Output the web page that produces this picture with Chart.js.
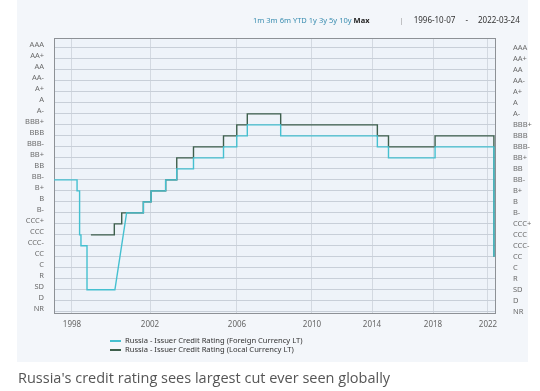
<!DOCTYPE html>
<html>
<head>
<meta charset="utf-8">
<script src="https://cdn.jsdelivr.net/npm/chart.js@4/dist/chart.umd.min.js"></script>
<style>
  body { margin: 0; width: 540px; height: 391px; background: #fff; position: relative; overflow: hidden; font-family: "Noto Sans", sans-serif; }
  #panel { position: absolute; left: 17px; top: 0; width: 511px; height: 362px; background: #f3f6fa; }
  #chart { position: absolute; left: 0; top: 0; }
  #range { position: absolute; top: 14px; left: 253px; font-size: 7.5px; color: #444; white-space: nowrap; }
  #range .btn { color: #3a8db0; margin-right: 2px; }
  #range .on { color: #222; font-weight: bold; }
  #range .sep { margin: 0 10px 0 28px; color: #999; }
  #range .date { font-size: 8px; color: #333; }
  #legend { position: absolute; left: 110px; top: 336px; font-size: 7.6px; color: #333; line-height: 9px; }
  #legend span.swatch { display: inline-block; width: 11px; height: 1.5px; margin-right: 4px; vertical-align: middle; }
  #caption { position: absolute; left: 18px; top: 368px; font-size: 14.5px; color: #555; font-family: "Open Sans", sans-serif; }
</style>
</head>
<body>
<div id="panel"></div>
<canvas id="chart" width="540" height="391"></canvas>
<div id="range"></div>
<div id="legend"></div>
<div id="caption">Russia's credit rating sees largest cut ever seen globally</div>
<script>
// rating scale, bottom to top
const ratingLabels = ['NR', 'D', 'SD', 'R', 'C', 'CC', 'CCC-', 'CCC', 'CCC+', 'B-', 'B', 'B+',
  'BB-', 'BB', 'BB+', 'BBB-', 'BBB', 'BBB+', 'A-', 'A', 'A+', 'AA-', 'AA', 'AA+', 'AAA'];
const tickYears = [1998, 2002, 2006, 2010, 2014, 2018, 2022];
const rangeButtons = ['1m', '3m', '6m', 'YTD', '1y', '3y', '5y', '10y', 'Max'];
const rangeDates = ['1996-10-07', '2022-03-24'];
const seriesNames = [
  'Russia - Issuer Credit Rating (Foreign Currency LT)',
  'Russia - Issuer Credit Rating (Local Currency LT)'
];
const seriesColors = ['#45c0d0', '#3d5f4c'];

// foreign currency, line vertices (decimal year, rating)
const fcDates = [1996.77, 1998.26, 1998.26, 1998.39, 1998.39, 1998.46, 1998.46, 1998.77, 1998.77,
  2000.2, 2000.8, 2001.66, 2001.66, 2002.05, 2002.05, 2002.72, 2002.72, 2003.23, 2003.23,
  2004.0, 2004.0, 2005.38, 2005.38, 2005.99, 2005.99, 2006.55, 2006.55, 2008.33, 2008.33,
  2014.35, 2014.35, 2015.08, 2015.08, 2018.15, 2018.15, 2022.17, 2022.17];
const fcRatings = ['BB-', 'BB-', 'B+', 'B+', 'CCC', 'CCC', 'CCC-', 'CCC-', 'SD',
  'SD', 'B-', 'B-', 'B', 'B', 'B+', 'B+', 'BB-', 'BB-', 'BB',
  'BB', 'BB+', 'BB+', 'BBB-', 'BBB-', 'BBB', 'BBB', 'BBB+', 'BBB+', 'BBB',
  'BBB', 'BBB-', 'BBB-', 'BB+', 'BB+', 'BBB-', 'BBB-', 'CC'];

// local currency
const lcDates = [1998.97, 2000.17, 2000.17, 2000.55, 2000.55, 2001.66, 2001.66, 2002.05, 2002.05,
  2002.72, 2002.72, 2003.23, 2003.23, 2004.0, 2004.0, 2005.38, 2005.38, 2005.99, 2005.99,
  2006.55, 2006.55, 2008.33, 2008.33, 2014.35, 2014.35, 2015.08, 2015.08, 2018.15, 2018.15,
  2022.17, 2022.17];
const lcRatings = ['CCC', 'CCC', 'CCC+', 'CCC+', 'B-', 'B-', 'B', 'B', 'B+',
  'B+', 'BB-', 'BB-', 'BB+', 'BB+', 'BBB-', 'BBB-', 'BBB', 'BBB', 'BBB+',
  'BBB+', 'A-', 'A-', 'BBB+', 'BBB+', 'BBB', 'BBB', 'BBB-', 'BBB-', 'BBB',
  'BBB', 'CC'];

const toPoints = (dates, ratings) => dates.map((d, i) => ({ x: d, y: ratingLabels.indexOf(ratings[i]) }));

// the source axis is not linear in time: piecewise mapping through the tick years
const warpYears = [1996.77, 1998, 2002, 2006, 2010, 2014, 2018, 2022, 2022.23];
const warpFrac = [0, 0.0407, 0.2172, 0.414, 0.5837, 0.7195, 0.8575, 0.9819, 1];

function lerpTable(v, xs, ys) {
  if (v <= xs[0]) return ys[0];
  for (let i = 1; i < xs.length; i++) {
    if (v <= xs[i]) {
      return ys[i - 1] + (v - xs[i - 1]) / (xs[i] - xs[i - 1]) * (ys[i] - ys[i - 1]);
    }
  }
  return ys[ys.length - 1];
}

class WarpedScale extends Chart.LinearScale {
  getPixelForValue(value) {
    return value === null ? NaN : this.getPixelForDecimal(lerpTable(value, warpYears, warpFrac));
  }
  getValueForPixel(pixel) {
    return lerpTable(this.getDecimalForPixel(pixel), warpFrac, warpYears);
  }
}
WarpedScale.id = 'warped';
WarpedScale.defaults = Chart.LinearScale.defaults;
Chart.register(WarpedScale);

const plotFrame = {
  id: 'plotFrame',
  beforeDraw(chart) {
    const { ctx, chartArea: a } = chart;
    ctx.save();
    ctx.fillStyle = '#eef3f9';
    ctx.fillRect(a.left, a.top, a.width, a.height);
    ctx.restore();
  },
  beforeDatasetsDraw(chart) {
    const { ctx, chartArea: a } = chart;
    ctx.save();
    ctx.strokeStyle = '#8d9196';
    ctx.lineWidth = 1;
    ctx.strokeRect(a.left + 0.5, a.top + 0.5, a.width - 1, a.height - 1);
    ctx.restore();
  }
};

const ratingTicks = (scale) => { scale.ticks = ratingLabels.map((_, i) => ({ value: i })); };
const tickFont = { family: 'Noto Sans', size: 7.5 };

new Chart(document.getElementById('chart'), {
  type: 'line',
  data: {
    datasets: [
      { label: seriesNames[0], data: toPoints(fcDates, fcRatings), borderColor: seriesColors[0] },
      { label: seriesNames[1], data: toPoints(lcDates, lcRatings), borderColor: seriesColors[1] }
    ]
  },
  options: {
    responsive: false,
    animation: false,
    parsing: false,
    layout: { padding: { top: 38, bottom: 57, left: 0, right: 0 } },
    elements: {
      point: { radius: 0 },
      line: { borderWidth: 1.4, tension: 0, fill: false }
    },
    plugins: { legend: { display: false }, tooltip: { enabled: false } },
    scales: {
      x: {
        type: 'warped',
        min: 1996.77,
        max: 2022.23,
        afterBuildTicks: (scale) => { scale.ticks = tickYears.map(v => ({ value: v })); },
        afterFit: (scale) => { scale.height = 20; },
        grid: { color: '#d3d9e1', drawTicks: false },
        border: { display: false },
        ticks: { callback: v => String(v), color: '#666', font: { family: 'Noto Sans', size: 8 }, padding: 6, maxRotation: 0, autoSkip: false }
      },
      y: {
        position: 'left',
        min: -0.2,
        max: 24.9,
        afterBuildTicks: ratingTicks,
        afterFit: (scale) => { scale.width = 54; },
        grid: { color: '#c8cfd8', drawTicks: false },
        border: { display: false },
        ticks: { callback: v => ratingLabels[v], color: '#6b6b6b', font: tickFont, padding: 10, labelOffset: -3, autoSkip: false }
      },
      y2: {
        position: 'right',
        min: -0.2,
        max: 24.9,
        afterBuildTicks: ratingTicks,
        afterFit: (scale) => { scale.width = 44; },
        grid: { display: false },
        border: { display: false },
        ticks: { callback: v => ratingLabels[v], color: '#6b6b6b', font: tickFont, padding: 9, autoSkip: false }
      }
    }
  },
  plugins: [plotFrame]
});

// range bar and legend as page text
const range = document.getElementById('range');
rangeButtons.forEach(b => {
  const s = document.createElement('span');
  s.className = b === 'Max' ? 'btn on' : 'btn';
  s.textContent = b;
  range.appendChild(s);
});
range.insertAdjacentHTML('beforeend',
  '<span class="sep">|</span><span class="date">' + rangeDates[0] +
  '</span><span class="date" style="margin:0 10px">-</span><span class="date">' + rangeDates[1] + '</span>');

const legend = document.getElementById('legend');
seriesNames.forEach((name, i) => {
  const row = document.createElement('div');
  row.innerHTML = '<span class="swatch" style="background:' + seriesColors[i] + '"></span>' + name;
  legend.appendChild(row);
});
</script>
</body>
</html>
